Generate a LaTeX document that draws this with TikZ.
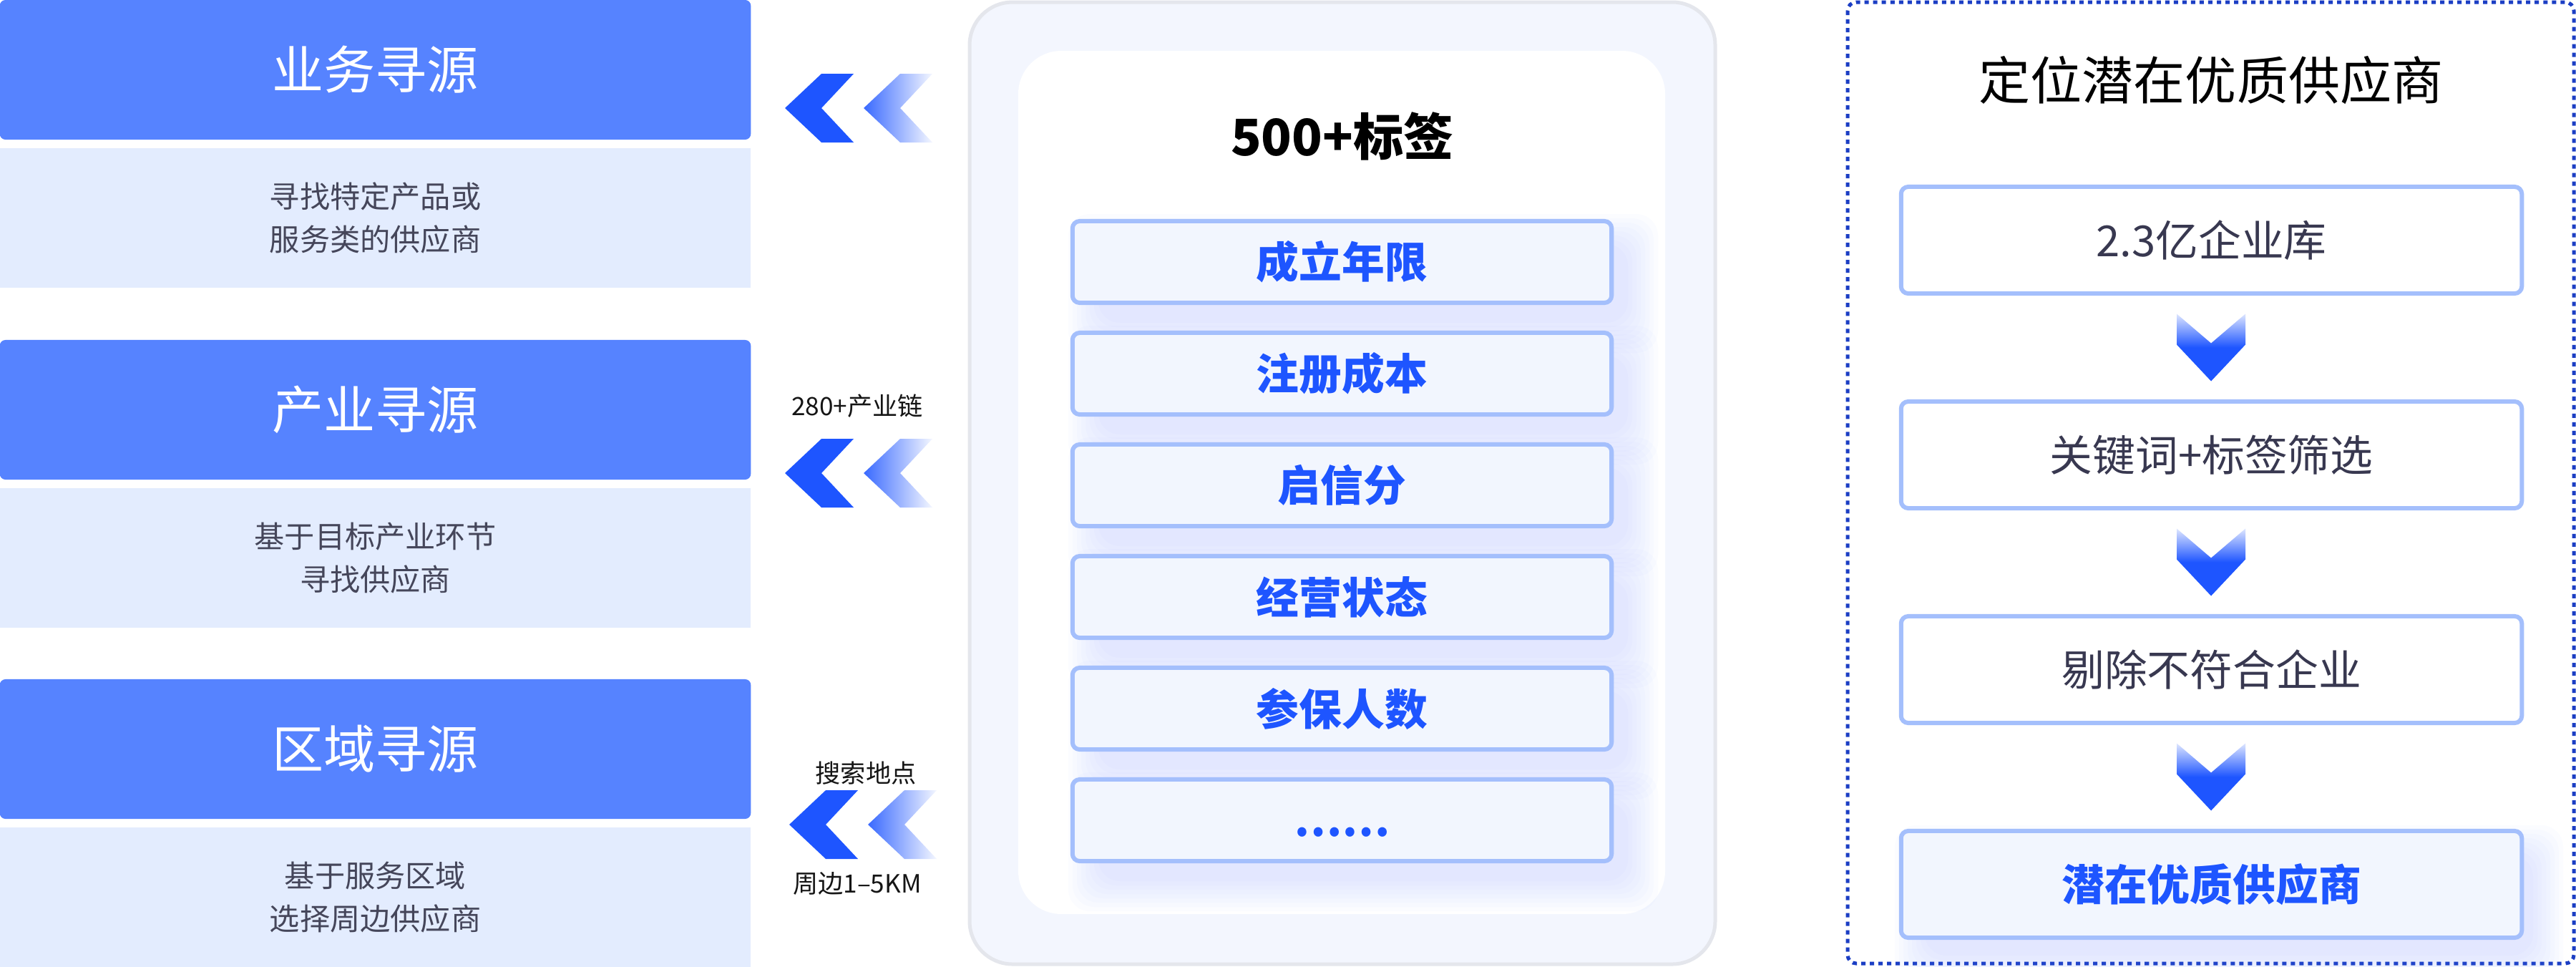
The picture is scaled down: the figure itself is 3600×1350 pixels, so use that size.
\documentclass[tikz,border=0pt]{standalone}
\usepackage{fontspec}
\setmainfont{Noto Sans CJK SC}
\usetikzlibrary{shadings}
\definecolor{hdrblue}{HTML}{5683FF}
\definecolor{lightbg}{HTML}{E3ECFE}
\definecolor{vivid}{HTML}{1E55FF}
\definecolor{tagborder}{HTML}{A4BFFC}
\definecolor{tagfill}{HTML}{F2F6FE}
\definecolor{panelfill}{HTML}{F3F6FE}
\definecolor{panelborder}{HTML}{E4E6EC}
\definecolor{dotblue}{HTML}{1B3EC4}
\definecolor{desctext}{HTML}{45465A}
\definecolor{boxtext}{HTML}{383850}
\definecolor{labeltext}{HTML}{151515}
\tikzset{
  hdr/.style={fill=hdrblue, rounded corners=0.08cm, minimum width=10.49cm, minimum height=1.95cm, inner sep=0pt, outer sep=0pt, text=white, font=\fontsize{20.5}{24}\selectfont},
  desc/.style={fill=lightbg, minimum width=10.49cm, minimum height=1.95cm, inner sep=0pt, outer sep=0pt, text=desctext, align=center, font=\fontsize{12}{17}\selectfont},
  tagbox/.style={draw=tagborder, line width=0.06cm, fill=tagfill, rounded corners=0.1cm, minimum width=7.53cm, minimum height=1.14cm, inner sep=0pt, text=vivid, font=\bfseries\fontsize{17}{20}\selectfont},
  tagtext/.style={inner sep=0pt, text=vivid, font=\bfseries\fontsize{17}{20}\selectfont},
  stepbox/.style={draw=tagborder, line width=0.06cm, fill=white, rounded corners=0.1cm, minimum width=8.67cm, minimum height=1.49cm, inner sep=0pt, text=boxtext, font=\fontsize{17}{20}\selectfont},
  finalbox/.style={stepbox, fill=tagfill, text=vivid, font=\bfseries\fontsize{17}{20}\selectfont},
  lbl/.style={text=labeltext, font=\fontsize{10}{12}\selectfont, inner sep=0pt},
  chevsolid/.style={fill=vivid},
  chevfade/.style={left color=vivid!88, right color=vivid!5},
  chevdown/.style={top color=vivid!15, bottom color=vivid, middle color=vivid},
  shadowlayer/.style={fill=hdrblue, opacity=0.018, rounded corners=0.3cm},
  dotborder/.style={draw=dotblue, line width=0.05cm, dash pattern=on 0.06cm off 0.06cm, rounded corners=0.12cm},
}
\newcommand\chevLeft[3]{%
  \path[#3] (#1,#2) -- ({#1+51},{#2-48}) -- ({#1+96},{#2-48}) -- ({#1+51},#2) -- ({#1+96},{#2+48}) -- ({#1+51},{#2+48}) -- cycle;}
\newcommand\chevDown[2]{%
  \path[chevdown] ({#1-48},{#2-47}) -- (#1,{#2-6}) -- ({#1+48},{#2-47}) -- ({#1+48},{#2-4}) -- (#1,{#2+47}) -- ({#1-48},{#2-4}) -- cycle;}
\newcommand\softShadow[4]{%
  \foreach \k in {0,...,7}{%
    \path[shadowlayer] ({#1-\k*6},{#2-\k*6}) rectangle ({#3+\k*6},{#4+\k*6});}}
\begin{document}
\begin{tikzpicture}[x=0.01cm,y=-0.01cm]
\useasboundingbox (0,0) rectangle (3600,1350);
\fill[white] (0,0) rectangle (3600,1350);

% ---------- left column ----------
\node[hdr]  (h1) at (524.5,97.5)  {业务寻源};
\node[desc] (d1) at (524.5,304.5) {寻找特定产品或\\服务类的供应商};
\node[hdr]  (h2) at (524.5,572.5) {产业寻源};
\node[desc] (d2) at (524.5,779.5) {基于目标产业环节\\寻找供应商};
\node[hdr]  (h3) at (524.5,1046.5) {区域寻源};
\node[desc] (d3) at (524.5,1253.5) {基于服务区域\\选择周边供应商};

% ---------- chevrons ----------
\chevLeft{1097}{151}{chevsolid}
\chevLeft{1207}{151}{chevfade}
\chevLeft{1097}{661}{chevsolid}
\chevLeft{1207}{661}{chevfade}
\chevLeft{1103}{1152}{chevsolid}
\chevLeft{1213}{1152}{chevfade}
\node[lbl] (l1) at (1198,567) {280+产业链};
\node[lbl] (l2) at (1210,1080) {搜索地点};
\node[lbl] (l3) at (1198,1234) {周边1–5KM};

% ---------- center panel ----------
\path[fill=panelfill, draw=panelborder, line width=0.05cm, rounded corners=0.6cm] (1355,3) rectangle (2397,1347);
\path[fill=white, rounded corners=0.6cm] (1423,71) rectangle (2327,1277);
\node[font=\bfseries\fontsize{20}{24}\selectfont, text=black] (ttl) at (1876,190) {500+标签};
\foreach \i [evaluate=\i as \ya using int(341+156*\i), evaluate=\i as \yb using int(451+156*\i)] in {0,...,5}{%
  \softShadow{1535}{\ya}{2275}{\yb}
}
\node[tagbox] (t1) at (1875.5,366) {成立年限};
\node[tagbox] (t2) at (1875.5,522) {注册成本};
\node[tagbox] (t3) at (1875.5,678) {启信分};
\node[tagbox] (t4) at (1875.5,834) {经营状态};
\node[tagbox] (t5) at (1875.5,990) {参保人数};
\node[tagbox] (t6) at (1875.5,1146) {};
\node[tagtext] (t6dots) at (1875.5,1163) {……};

% ---------- right panel ----------
\path[dotborder] (2582,3) rectangle (3597,1346);
\node[font=\fontsize{20.5}{24}\selectfont, text=black] (rt) at (3090,112) {定位潜在优质供应商};
\softShadow{2690}{1195}{3540}{1335}
\node[stepbox]  (s1) at (3090.5,335.5)  {2.3亿企业库};
\node[stepbox]  (s2) at (3090.5,635.5)  {关键词+标签筛选};
\node[stepbox]  (s3) at (3090.5,935.5)  {剔除不符合企业};
\node[finalbox] (s4) at (3090.5,1235.5) {潜在优质供应商};
\chevDown{3090}{485.5}
\chevDown{3090}{785.5}
\chevDown{3090}{1085.5}
\end{tikzpicture}
\end{document}
